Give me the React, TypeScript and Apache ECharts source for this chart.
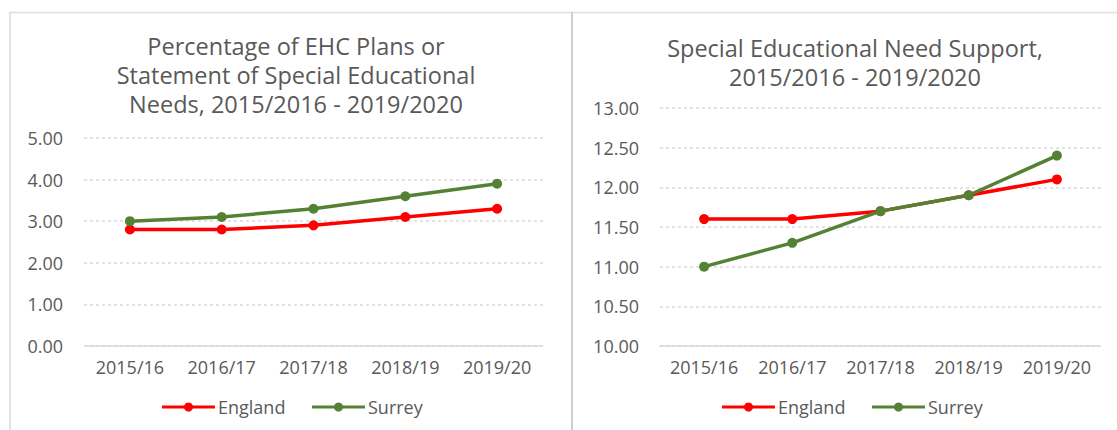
import React, { useEffect, useRef } from "react";
import * as echarts from "echarts";

const categories = ["2015/16", "2016/17", "2017/18", "2018/19", "2019/20"];
const ehcEngland = [2.8, 2.8, 2.9, 3.1, 3.3];
const ehcSurrey = [3.0, 3.1, 3.3, 3.6, 3.9];
const senEngland = [11.6, 11.6, 11.7, 11.9, 12.1];
const senSurrey = [11.0, 11.3, 11.7, 11.9, 12.4];
const leftTitle = "Percentage of EHC Plans or\nStatement of Special Educational\nNeeds, 2015/2016 - 2019/2020";
const rightTitle = "Special Educational Need Support,\n2015/2016 - 2019/2020";
const seriesNames = ["England", "Surrey"];

const FONT = "'Open Sans', sans-serif";
const TEXT = "#595959";
const RED = "#ff0000";
const GREEN = "#548235";

function legendGroup(left: number) {
  const colors = [RED, GREEN];
  const offsets = [0, 150];
  const children: any[] = [];
  seriesNames.forEach((name, i) => {
    const x0 = offsets[i];
    children.push({ type: "rect", shape: { x: x0, y: 15.5, width: 53, height: 3 }, style: { fill: colors[i] } });
    children.push({ type: "circle", shape: { cx: x0 + 26.5, cy: 17, r: 4.5 }, style: { fill: colors[i] } });
    children.push({
      type: "text",
      x: x0 + 56,
      y: 17,
      style: { text: name, fill: TEXT, font: `18px ${FONT}`, verticalAlign: "middle", align: "left" },
    });
  });
  return { type: "group", x: left, y: 390, children };
}

export default function App() {
  const ref = useRef<HTMLDivElement>(null);
  useEffect(() => {
    if (!ref.current) return;
    const chart = echarts.init(ref.current, undefined, { renderer: "svg" });
    const xAxisBase = {
      type: "category" as const,
      data: categories,
      axisLine: { show: false },
      axisTick: { show: false },
      axisLabel: { color: TEXT, fontSize: 18, fontFamily: FONT, margin: 12, interval: 0, hideOverlap: false },
    };
    const yAxisBase = {
      type: "value" as const,
      axisLine: { show: false },
      axisTick: { show: false },
      splitLine: { lineStyle: { color: "#d9d9d9", type: [3, 3] as any, width: 1.5 } },
      axisLabel: {
        color: TEXT,
        fontSize: 18,
        fontFamily: FONT,
        margin: 21,
        formatter: (v: number) => v.toFixed(2),
      },
    };
    const lineSeries = (name: string, data: number[], color: string, idx: number) => ({
      name,
      type: "line" as const,
      data,
      xAxisIndex: idx,
      yAxisIndex: idx,
      symbol: "circle",
      symbolSize: 10,
      lineStyle: { color, width: 3.5 },
      itemStyle: { color },
    });
    const titleStyle = { color: TEXT, fontSize: 23.5, fontWeight: "normal", fontFamily: FONT, lineHeight: 29 };
    chart.setOption({
      animation: false,
      backgroundColor: "#ffffff",
      title: [
        { text: leftTitle, left: 291, top: 26, textAlign: "center", textStyle: titleStyle },
        { text: rightTitle, left: 850, top: 28, textAlign: "center", textStyle: titleStyle },
      ],
      grid: [
        { left: 84, top: 138, width: 459, height: 208 },
        { left: 660, top: 108, width: 441, height: 238 },
      ],
      xAxis: [
        { ...xAxisBase, gridIndex: 0 },
        { ...xAxisBase, gridIndex: 1 },
      ],
      yAxis: [
        { ...yAxisBase, gridIndex: 0, min: 0, max: 5, interval: 1 },
        { ...yAxisBase, gridIndex: 1, min: 10, max: 13, interval: 0.5 },
      ],
      series: [
        lineSeries("England", ehcEngland, RED, 0),
        lineSeries("Surrey", ehcSurrey, GREEN, 0),
        lineSeries("England", senEngland, RED, 1),
        lineSeries("Surrey", senSurrey, GREEN, 1),
      ],
      graphic: [
        { type: "line", shape: { x1: 10, y1: 12.5, x2: 1117, y2: 12.5 }, style: { stroke: "#dedede", lineWidth: 1.5 } },
        { type: "line", shape: { x1: 10, y1: 12, x2: 10, y2: 430 }, style: { stroke: "#d9d9d9", lineWidth: 1.5 } },
        { type: "line", shape: { x1: 572, y1: 12, x2: 572, y2: 430 }, style: { stroke: "#cfcfcf", lineWidth: 2 } },
        { type: "line", shape: { x1: 85, y1: 346, x2: 543, y2: 346 }, style: { stroke: "#e3e3e3", lineWidth: 2 } },
        { type: "line", shape: { x1: 659, y1: 346, x2: 1099, y2: 346 }, style: { stroke: "#e3e3e3", lineWidth: 2 } },
        legendGroup(162),
        legendGroup(722),
      ],
    });
    return () => chart.dispose();
  }, []);
  return (
    <div
      ref={ref}
      style={{ position: "fixed", left: 0, top: 0, width: 1117, height: 430 }}
    />
  );
}
